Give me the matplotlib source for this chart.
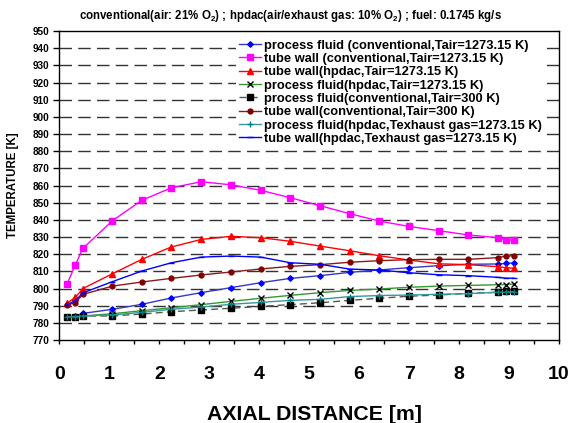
import matplotlib
matplotlib.use("Agg")
import matplotlib.pyplot as plt
from matplotlib.ticker import MultipleLocator

plt.rcParams['font.family'] = ['Liberation Sans', 'DejaVu Sans']
plt.rcParams['mathtext.fontset'] = 'custom'
plt.rcParams['mathtext.rm'] = 'Liberation Sans:bold'
plt.rcParams['mathtext.bf'] = 'Liberation Sans:bold'

x = [0.15, 0.32, 0.47, 1.06, 1.65, 2.24, 2.84, 3.43, 4.03, 4.62,
     5.22, 5.81, 6.40, 6.99, 7.59, 8.18, 8.78, 8.94, 9.10]

pf_conv_1273 = [783.4, 784.0, 785.5, 787.9, 790.8, 794.5, 797.6, 800.5, 803.4, 805.9,
                807.5, 809.4, 810.8, 812.1, 813.3, 814.1, 814.3, 814.6, 814.9]
tw_conv_1273 = [802.6, 813.9, 823.4, 839.5, 851.4, 858.7, 862.2, 860.4, 857.2, 852.9,
                848.2, 843.6, 839.3, 836.2, 833.7, 831.2, 829.6, 828.4, 828.2]
tw_hpdac_1273 = [791.4, 794.9, 800.0, 808.6, 817.0, 824.2, 828.6, 830.4, 829.6, 827.5,
                 824.7, 822.0, 819.1, 816.6, 814.4, 813.9, 812.7, 812.1, 811.8]
pf_hpdac_1273 = [783.4, 783.6, 784.0, 785.3, 787.1, 788.8, 790.6, 792.5, 794.3, 796.0,
                 797.6, 798.9, 799.7, 800.7, 801.4, 801.8, 802.2, 802.3, 802.6]
pf_conv_300 = [783.4, 783.6, 784.0, 784.0, 785.1, 786.5, 787.5, 788.5, 789.6, 790.6,
               791.7, 793.1, 794.3, 795.5, 796.2, 797.2, 797.8, 798.4, 798.6]
tw_conv_300 = [790.4, 791.8, 796.6, 801.4, 803.8, 805.9, 807.9, 809.6, 811.4, 812.9,
               813.9, 815.3, 816.2, 816.8, 817.0, 817.0, 818.0, 818.9, 819.1]
pf_hpdac_exh = [783.4, 783.6, 784.0, 784.6, 786.1, 787.9, 789.2, 790.8, 791.9, 793.1,
                793.7, 795.3, 795.9, 796.2, 796.6, 797.0, 797.8, 797.9, 798.1]
tw_hpdac_exh = [790.6, 793.0, 797.5, 804.0, 810.2, 815.0, 818.3, 818.9, 818.3, 815.0,
                814.1, 811.3, 810.8, 809.2, 808.0, 807.5, 806.5, 806.0, 806.0]

labels = [
    "process fluid (conventional,Tair=1273.15 K)",
    "tube wall (conventional,Tair=1273.15 K)",
    "tube wall(hpdac,Tair=1273.15 K)",
    "process fluid(hpdac,Tair=1273.15 K)",
    "process fluid(conventional,Tair=300 K)",
    "tube wall(conventional,Tair=300 K)",
    "process fluid(hpdac,Texhaust gas=1273.15 K)",
    "tube wall(hpdac,Texhaust gas=1273.15 K)",
]

x_ticks = list(range(0, 11))
y_ticks = list(range(770, 951, 10))

fig = plt.figure(figsize=(5.81, 4.23), dpi=100)
ax = fig.add_axes([0.1024, 0.1962, 0.8597, 0.7305])

for yv in y_ticks[1:-1]:
    ax.axhline(yv, color='#333333', lw=1.0, dashes=(9, 4.5), zorder=1)

series = [
    (pf_conv_1273, dict(color='#3838C0', marker='D', ms=2.8, mfc='#0000FF', mec='#0000FF', ls='-')),
    (tw_conv_1273, dict(color='#FF00FF', marker='s', ms=4, mfc='#FF00FF', mec='#FF00FF', ls='-')),
    (tw_hpdac_1273, dict(color='#FF0000', marker='^', ms=4.5, mfc='#FF0000', mec='#FF0000', ls='-')),
    (pf_hpdac_1273, dict(color='#339933', marker='x', ms=4.5, mfc='#000000', mec='#000000', mew=1.0, ls='-')),
    (pf_conv_300, dict(color='#555555', marker='s', ms=4, mfc='#000000', mec='#000000', ls=(0, (5, 3)))),
    (tw_conv_300, dict(color='#8B1A1A', marker='o', ms=3.5, mfc='#800000', mec='#800000', ls='-')),
    (pf_hpdac_exh, dict(color='#339999', marker='+', ms=5, mfc='#008080', mec='#008080', mew=1.0, ls='-')),
    (tw_hpdac_exh, dict(color='#0000FF', marker='_', ms=4, mfc='#0000FF', mec='#0000FF', mew=1.0, ls='-')),
]
for (vals, st), lab in zip(series, labels):
    ax.plot(x, vals, lw=1.0, label=lab, zorder=3, **st)

ax.set_xlim(0, 10)
ax.set_ylim(770, 950)
ax.set_xticks(x_ticks)
ax.xaxis.set_minor_locator(MultipleLocator(0.5))
ax.set_yticks(y_ticks)
ax.tick_params(axis='x', which='major', direction='out', length=3, width=1, labelsize=14, pad=16)
ax.tick_params(axis='x', which='minor', direction='out', length=3, width=1)
ax.tick_params(axis='y', direction='out', length=4, width=1, labelsize=7.2, pad=3.5)
for lbl in ax.get_xticklabels() + ax.get_yticklabels():
    lbl.set_fontweight('bold')
for sp in ax.spines.values():
    sp.set_linewidth(1.0)

ax.set_xlabel("AXIAL DISTANCE [m]", fontsize=15.3, fontweight='bold')
ax.xaxis.set_label_coords((315 - 59.5) / 499.5, (340 - 414) / 309.0)
ax.xaxis.label.set_va('center')
ax.set_ylabel("TEMPERATURE [K]", fontsize=8.3, fontweight='bold')
ax.yaxis.set_label_coords((13 - 59.5) / 499.5, 0.5)
ax.yaxis.label.set_va('center')

fig.text(0.5, 1 - 16 / 423.0,
         r"conventional(air: 21% O$_2$) ; hpdac(air/exhaust gas: 10% O$_2$) ; fuel: 0.1745 kg/s",
         fontsize=8.3, fontweight='bold', ha='center', va='center')

leg = ax.legend(loc='upper left', bbox_to_anchor=((236 - 59.5) / 499.5, (340 - 37) / 309.0),
                frameon=True, fancybox=False, edgecolor='none', facecolor='white', framealpha=1,
                prop={'weight': 'bold', 'size': 9.3}, labelspacing=0.1,
                handlelength=1.7, handletextpad=0.3, borderpad=0.2, borderaxespad=0)
leg.set_zorder(5)

fig.savefig("out.png", dpi=100, facecolor='white')
